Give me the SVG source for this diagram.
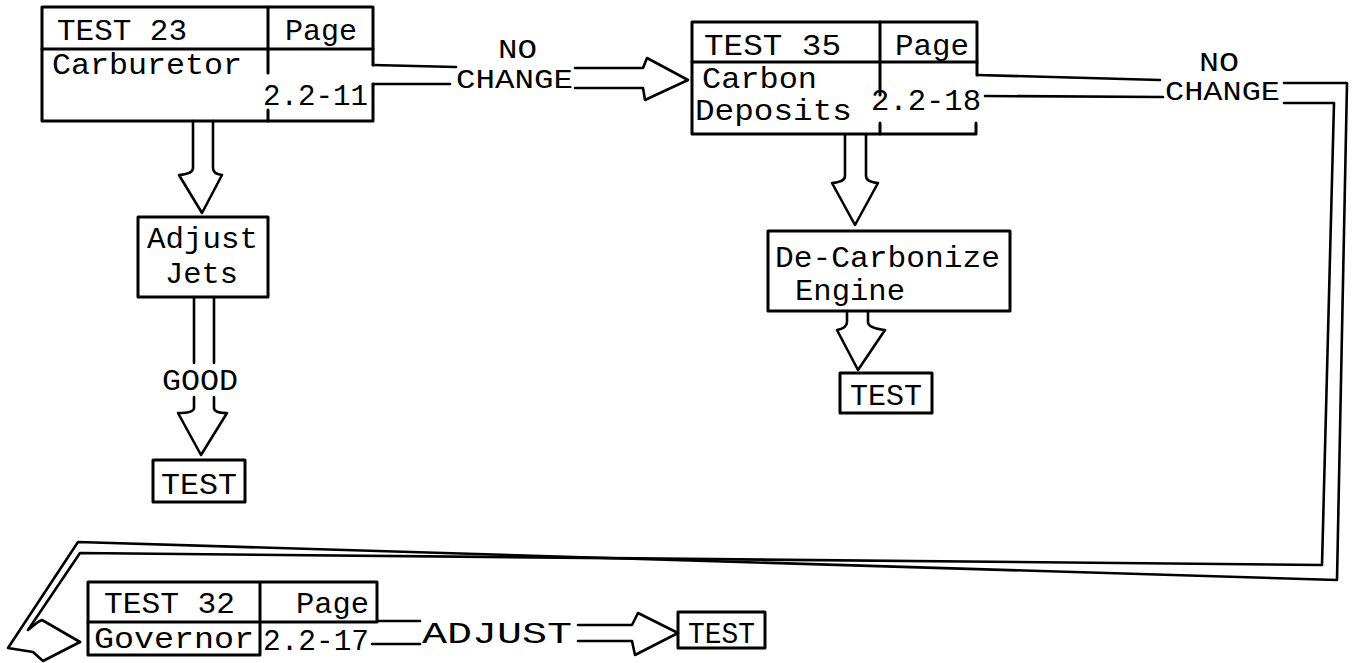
<svg xmlns="http://www.w3.org/2000/svg" width="1355" height="663" viewBox="0 0 1355 663">
<style>
.b{fill:none;stroke:#000;stroke-width:3;stroke-linejoin:round;stroke-linecap:round}
.l{fill:none;stroke:#000;stroke-width:2.6;stroke-linejoin:round;stroke-linecap:round}
.t{font-family:"Liberation Mono","DejaVu Sans Mono",monospace;font-size:30px;fill:#000}
.s{font-family:"Liberation Mono","DejaVu Sans Mono",monospace;font-size:27px;fill:#000}
</style>
<rect width="1355" height="663" fill="#fff"/>
<g id="test23">
<path class="b" d="M373,65 V7 H42 V121 H373 V84"/>
<line class="b" x1="42" y1="49" x2="373" y2="49"/>
<line class="b" x1="268" y1="7" x2="268" y2="73"/>
<line class="b" x1="268" y1="110" x2="268" y2="121"/>
<text class="t" x="57" y="40" textLength="130" lengthAdjust="spacingAndGlyphs">TEST 23</text>
<text class="t" x="285" y="40" textLength="72" lengthAdjust="spacingAndGlyphs">Page</text>
<text class="t" x="52" y="74" textLength="190" lengthAdjust="spacingAndGlyphs">Carburetor</text>
<text class="t" x="263" y="105" textLength="105" lengthAdjust="spacingAndGlyphs">2.2-11</text>
</g>
<g id="adjust-jets">
<rect class="b" x="138" y="217" width="130" height="80"/>
<text class="t" x="147" y="248" textLength="111" lengthAdjust="spacingAndGlyphs">Adjust</text>
<text class="t" x="165" y="283" textLength="73" lengthAdjust="spacingAndGlyphs">Jets</text>
</g>
<g id="test-left">
<rect class="b" x="153" y="460" width="92" height="42"/>
<text class="t" x="161" y="494" textLength="76" lengthAdjust="spacingAndGlyphs">TEST</text>
</g>
<g id="test35">
<path class="b" d="M977,75 V22 H692 V134 H976 V123"/>
<line class="b" x1="692" y1="62" x2="977" y2="62"/>
<line class="b" x1="880" y1="22" x2="880" y2="95"/>
<line class="b" x1="880" y1="123" x2="880" y2="134"/>
<text class="t" x="704" y="55" textLength="137" lengthAdjust="spacingAndGlyphs">TEST 35</text>
<text class="t" x="895" y="55" textLength="74" lengthAdjust="spacingAndGlyphs">Page</text>
<text class="t" x="702" y="88" textLength="115" lengthAdjust="spacingAndGlyphs">Carbon</text>
<text class="t" x="695" y="120" textLength="157" lengthAdjust="spacingAndGlyphs">Deposits</text>
<text class="t" x="871" y="110" textLength="110" lengthAdjust="spacingAndGlyphs">2.2-18</text>
</g>
<g id="decarbonize">
<rect class="b" x="768" y="231" width="242" height="80"/>
<text class="t" x="775" y="267" textLength="225" lengthAdjust="spacingAndGlyphs">De-Carbonize</text>
<text class="t" x="795" y="300" textLength="110" lengthAdjust="spacingAndGlyphs">Engine</text>
</g>
<g id="test-mid">
<rect class="b" x="840" y="373" width="92" height="40"/>
<text class="t" x="850" y="405" textLength="72" lengthAdjust="spacingAndGlyphs">TEST</text>
</g>
<g id="test32">
<path class="b" d="M377,621 V582 H88 V655 H260 V582"/>
<line class="b" x1="88" y1="622" x2="377" y2="622"/>
<text class="t" x="104" y="613" textLength="131" lengthAdjust="spacingAndGlyphs">TEST 32</text>
<text class="t" x="296" y="613" textLength="73" lengthAdjust="spacingAndGlyphs">Page</text>
<text class="t" x="94" y="648" textLength="160" lengthAdjust="spacingAndGlyphs">Governor</text>
<text class="t" x="263" y="650" textLength="106" lengthAdjust="spacingAndGlyphs">2.2-17</text>
</g>
<g id="test-bottom">
<rect class="b" x="678" y="612" width="87" height="36"/>
<text class="t" x="688" y="643" textLength="67" lengthAdjust="spacingAndGlyphs">TEST</text>
</g>
<g id="connectors">
<path class="l" d="M373,65 L456,67"/>
<path class="l" d="M373,84 L450,84"/>
<text class="s" x="498" y="58" textLength="39" lengthAdjust="spacingAndGlyphs">NO</text>
<text class="s" x="456" y="88" textLength="117" lengthAdjust="spacingAndGlyphs">CHANGE</text>
<path class="l" d="M575,68 H643 L647,58 L688,80 L645,100 L643,88 H575"/>
<path class="l" d="M193,121 V168 Q193,174 179,175 L202,213 L222,175 Q213,174 213,168 V121"/>
<path class="l" d="M194,297 V363 M214,297 V363"/>
<text class="t" x="162" y="390" textLength="76" lengthAdjust="spacingAndGlyphs">GOOD</text>
<path class="l" d="M194,397 V408 Q194,413 178,413 L201,455 L227,413 Q214,413 214,408 V397"/>
<path class="l" d="M845,135 V176 Q845,182 832,183 L855,225 L878,183 Q866,182 866,176 V135"/>
<path class="l" d="M847,311 V322 Q847,328 837,330 L858,370 L885,330 Q868,328 868,322 V311"/>
<path class="l" d="M977,75 L1160,80"/>
<path class="l" d="M985,96 L1163,97"/>
<text class="s" x="1199" y="71" textLength="40" lengthAdjust="spacingAndGlyphs">NO</text>
<text class="s" x="1165" y="100" textLength="115" lengthAdjust="spacingAndGlyphs">CHANGE</text>
<path class="l" d="M1284,83 H1347 L1337,580 L78,542 L8,648 L33,652 L43,661 L80,642"/>
<path class="l" d="M1284,103 H1334 L1322,565 L80,553 L28,630 L38,622 L42,620 L80,642"/>
<path class="l" d="M377,621 H420"/>
<path class="l" d="M372,644 H420"/>
<text class="t" x="422" y="643" textLength="150" lengthAdjust="spacingAndGlyphs">ADJUST</text>
<path class="l" d="M578,625 H632 L638,613 L678,633 L635,655 L632,641 H578"/>
</g>
</svg>
